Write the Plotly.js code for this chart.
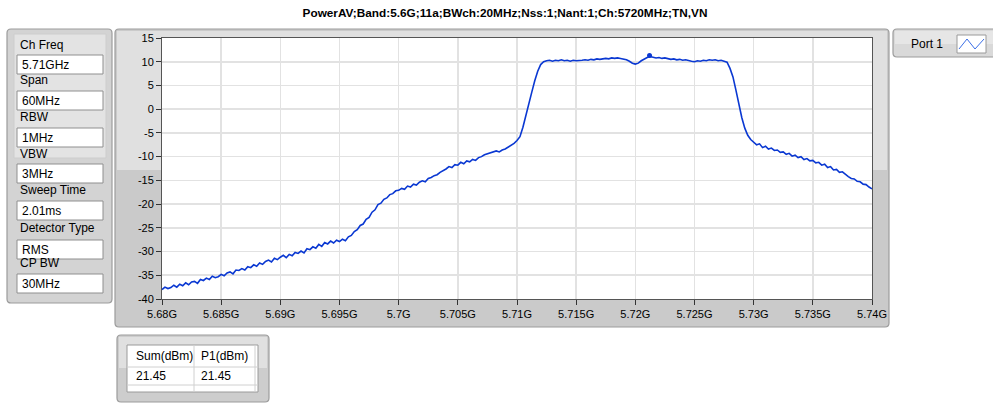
<!DOCTYPE html>
<html><head><meta charset="utf-8">
<script src="https://cdn.plot.ly/plotly-3.0.1.min.js"></script>
<style>html,body{margin:0;padding:0;background:#fff;overflow:hidden;} #chart{width:993px;height:408px;}</style>
</head><body><div id="chart"></div>
<script>
const chartTitle = "PowerAV;Band:5.6G;11a;BWch:20MHz;Nss:1;Nant:1;Ch:5720MHz;TN,VN";
const sweepStartGHz = 5.68;
const sweepStepGHz = 0.00025;
const powerDbm = [
 -38.0,-37.5,-37.8,-37.6,-37.1,-37.5,-36.9,-37.2,-36.6,-37.0,-36.4,-36.3,-36.7,-35.9,-36.1,-35.6,-35.9,-35.2,-35.5,-35.3,
 -34.8,-35.1,-34.5,-34.3,-34.7,-33.9,-34.0,-33.6,-33.9,-33.2,-33.4,-32.8,-33.1,-32.4,-32.7,-32.1,-31.8,-32.2,-31.4,-31.7,
 -31.2,-30.8,-31.3,-30.6,-30.9,-30.2,-30.4,-29.9,-30.3,-29.4,-29.6,-29.0,-29.3,-28.5,-28.9,-28.1,-28.4,-27.8,-28.2,-27.6,-27.9,
 -27.4,-27.7,-26.9,-26.6,-25.8,-25.4,-24.5,-24.2,-23.2,-22.8,-21.7,-21.2,-20.1,-19.8,-19.0,-18.7,-18.0,-17.8,-17.2,-17.1,
 -16.7,-16.9,-16.2,-16.4,-15.8,-16.0,-15.4,-15.1,-15.3,-14.6,-14.4,-14.0,-13.8,-13.3,-13.0,-12.6,-12.1,-12.3,-11.7,-11.8,
 -11.2,-11.5,-10.9,-11.1,-10.6,-10.8,-10.2,-10.0,-9.6,-9.4,-9.2,-9.1,-8.8,-9.0,-8.6,-8.4,-8.0,-7.7,-7.2,-6.6,
 -5.8,-3.8,-1.5,1.0,3.6,6.0,8.0,9.4,10.0,
 10.2,10.3,10.1,10.3,10.2,10.4,10.2,10.3,10.1,10.3,10.2,10.2,10.3,10.4,10.3,10.5,10.4,10.6,10.5,10.6,
 10.7,10.6,10.8,10.7,10.8,10.7,10.6,10.4,10.1,9.7,9.5,9.7,10.2,10.6,10.9,11.1,10.9,10.8,10.9,10.7,
 10.8,10.6,10.5,10.6,10.4,10.5,10.3,10.4,10.2,10.1,10.0,10.2,10.1,10.3,10.2,10.4,10.3,10.4,10.2,10.3,10.1,9.9,
 8.6,6.8,4.0,1.0,-1.8,-4.0,-5.5,-6.4,-7.0,-7.5,-7.3,-8.1,-7.8,-8.4,-8.2,-8.7,-8.6,-9.1,-9.0,-9.5,
 -9.3,-9.9,-9.7,-10.2,-10.0,-10.6,-10.4,-10.9,-10.8,-11.3,-11.2,-11.8,-11.6,-12.3,-12.1,-12.8,-12.7,-13.3,-13.2,-13.8,
 -14.2,-14.6,-14.7,-15.2,-15.3,-15.8,-15.9,-16.4,-16.8
];
const peakMarkerFreq = [5.7212];
const peakMarkerPower = [11.3];
const cpEdgesGHz = [5.695, 5.725];
const xTickVals = [5.68,5.685,5.69,5.695,5.7,5.705,5.71,5.715,5.72,5.725,5.73,5.735,5.74];
const xTickText = ['5.68G','5.685G','5.69G','5.695G','5.7G','5.705G','5.71G','5.715G','5.72G','5.725G','5.73G','5.735G','5.74G'];
const yTickVals = [15,10,5,0,-5,-10,-15,-20,-25,-30,-35,-40];
const yTickText = ['15','10','5','0','-5','-10','-15','-20','-25','-30','-35','-40'];
const settingLabels = ['Ch Freq','Span','RBW','VBW','Sweep Time','Detector Type','CP BW'];
const settingValues = ['5.71GHz','60MHz','1MHz','3MHz','2.01ms','RMS','30MHz'];
const tableHeaders = ['Sum(dBm)','P1(dBm)'];
const tableValues = ['21.45','21.45'];
const legendName = 'Port 1';

// ---- layout helpers (pixel -> paper) ----
const L=162, T=38, W=710, H=261;
const px = x => (x-L)/W, py = y => 1-(y-T)/H;
const NONE = 'rgba(0,0,0,0)';
function rrect(x0,y0,x1,y1,r,fill,line,lw){
  const p=(x,y)=>px(x).toFixed(5)+','+py(y).toFixed(5);
  const d=`M${p(x0+r,y0)} L${p(x1-r,y0)} Q${p(x1,y0)} ${p(x1,y0+r)} L${p(x1,y1-r)} Q${p(x1,y1)} ${p(x1-r,y1)} L${p(x0+r,y1)} Q${p(x0,y1)} ${p(x0,y1-r)} L${p(x0,y0+r)} Q${p(x0,y0)} ${p(x0+r,y0)} Z`;
  return {type:'path',xref:'paper',yref:'paper',path:d,fillcolor:fill,line:{color:line||NONE,width:lw||0},layer:'below'};
}
function rect(x0,y0,x1,y1,fill,line,lw){
  return {type:'rect',xref:'paper',yref:'paper',x0:px(x0),x1:px(x1),y0:py(y1),y1:py(y0),fillcolor:fill,line:{color:line||NONE,width:lw||0},layer:'below'};
}
function seg(x0,y0,x1,y1,color,w){
  return {type:'line',xref:'paper',yref:'paper',x0:px(x0),x1:px(x1),y0:py(y0),y1:py(y1),line:{color:color,width:w||1},layer:'below'};
}
function txt(x,y,s,opt){
  return Object.assign({xref:'paper',yref:'paper',x:px(x),y:py(y),text:s,showarrow:false,xanchor:'left',yanchor:'middle',
    font:{family:'Liberation Sans, Arial, sans-serif',size:12,color:'#000'}},opt||{});
}

const shapes=[];
const annotations=[];
// left settings panel
shapes.push(rrect(7,29,112,303,4,'#d3d3d3','#9c9c9c',1.2));
shapes.push(rect(14,34,106,158,'#e3e3e3','#cdcdcd',1));
const labelY=[45,80,117,154,190,228,263];
const boxTop=[55,91,128,164,201,240,274];
settingLabels.forEach((s,i)=>{
  annotations.push(txt(18,labelY[i],s));
  shapes.push(rect(17,boxTop[i],103,boxTop[i]+19,'#ffffff','#8f8f8f',1));
  annotations.push(txt(20,boxTop[i]+10,settingValues[i]));
});
// graph panel
shapes.push(rrect(115,29,889,327,4,'#cacaca','#9c9c9c',1.2));
shapes.push(rect(117,31,887,170,'#e0e0e0'));
shapes.push(rect(L,T,L+W,T+H,'#ffffff'));
// legend panel
shapes.push(rrect(893,29,1000,57,4,'#d9d9d9','#9c9c9c',1.2));
shapes.push(rect(895,31,998,44,'#e6e6e6'));
shapes.push(rect(957,35,986,53,'#ffffff','#9a9a9a',1));
shapes.push({type:'path',xref:'paper',yref:'paper',layer:'above',
  path:`M${px(959)},${py(49)} L${px(967)},${py(39)} L${px(975)},${py(49)} L${px(984)},${py(39)}`,
  line:{color:'#3a6ee6',width:1}});
annotations.push(txt(909,44,legendName));
// table panel
shapes.push(rrect(117,335,269,402,4,'#cdcdcd','#9c9c9c',1.2));
shapes.push(rect(119,337,267,368,'#e0e0e0'));
shapes.push(rect(127,345,258,392,'#ffffff','#9a9a9a',1));
shapes.push(seg(127,367,258,367,'#d0d0d0',1));
shapes.push(seg(127,385,258,385,'#d0d0d0',1));
shapes.push(seg(194,345,194,392,'#d0d0d0',1));
shapes.push(seg(255,345,255,392,'#d0d0d0',1));
annotations.push(txt(134,356,tableHeaders[0]));
annotations.push(txt(199,356,tableHeaders[1]));
annotations.push(txt(134,376,tableValues[0]));
annotations.push(txt(199,376,tableValues[1]));
// CP boundary lines (data x)
cpEdgesGHz.forEach(f=>{
  shapes.push({type:'line',xref:'x',yref:'paper',x0:f,x1:f,y0:0,y1:1,layer:'between',
    line:{color:'#2d5fe6',width:1,dash:'3px,2px'}});
});

const traces=[
  {type:'scatter',mode:'lines',name:legendName,x0:sweepStartGHz,dx:sweepStepGHz,y:powerDbm,
   line:{color:'#0a38d2',width:1.6},hoverinfo:'skip'},
  {type:'scatter',mode:'markers',x:peakMarkerFreq,y:peakMarkerPower,showlegend:false,
   marker:{color:'#0a38d2',size:5},hoverinfo:'skip'}
];

const axisFont={family:'Liberation Sans, Arial, sans-serif',size:11,color:'#000'};
const layout={
  width:993,height:408,
  margin:{l:L,r:993-L-W,t:T,b:408-T-H,pad:0},
  paper_bgcolor:'#ffffff',plot_bgcolor:'#ffffff',
  showlegend:false,
  title:{text:'<b>'+chartTitle+'</b>',x:px(505),xref:'paper',xanchor:'center',y:1-13/408,yref:'container',yanchor:'middle',
    font:{family:'Liberation Sans, Arial, sans-serif',size:11.8,color:'#000'}},
  xaxis:{range:[5.68,5.74],tickmode:'array',tickvals:xTickVals,ticktext:xTickText,tickfont:axisFont,
    ticks:'outside',ticklen:5,tickcolor:'#333',tickwidth:1,
    showgrid:true,gridcolor:'#e2e2e2',gridwidth:1.6,zeroline:false,
    showline:true,linecolor:'#555',linewidth:1,mirror:true,fixedrange:true},
  yaxis:{range:[-40,15],tickmode:'array',tickvals:yTickVals,ticktext:yTickText,tickfont:axisFont,
    ticks:'outside',ticklen:5,tickcolor:'#333',tickwidth:1,
    showgrid:true,gridcolor:'#e2e2e2',gridwidth:1.6,zeroline:false,
    showline:true,linecolor:'#555',linewidth:1,mirror:true,fixedrange:true},
  shapes:shapes,annotations:annotations
};
Plotly.newPlot('chart',traces,layout,{staticPlot:true,displayModeBar:false});
</script></body></html>
